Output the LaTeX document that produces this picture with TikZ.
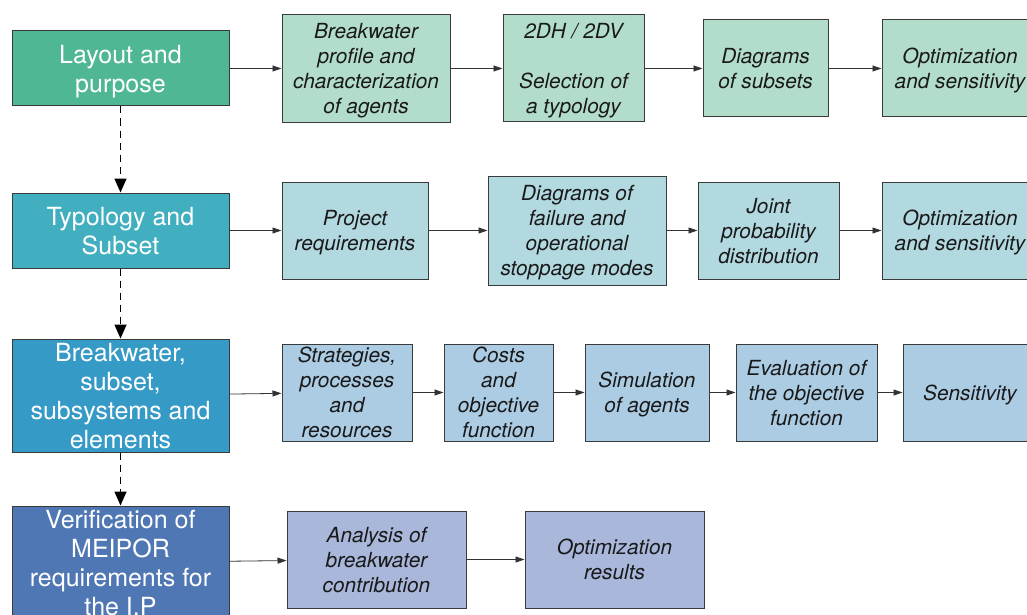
\documentclass[tikz,border=0pt]{standalone}
\usepackage{fontspec}
\setmainfont{TeX Gyre Heros}
\usetikzlibrary{arrows.meta}
\usetikzlibrary{positioning}

\definecolor{stepA}{HTML}{50B794}
\definecolor{stepB}{HTML}{42AFC0}
\definecolor{stepC}{HTML}{359AC6}
\definecolor{stepD}{HTML}{4F77B4}
\definecolor{taskA}{HTML}{B3DDCB}
\definecolor{taskB}{HTML}{B2D8E0}
\definecolor{taskC}{HTML}{ACCCE4}
\definecolor{taskD}{HTML}{A9B7DB}
\definecolor{edge}{HTML}{3A3A3A}

\begin{document}
\begin{tikzpicture}[x=1pt,y=-1pt,
  box/.style={draw=edge,line width=1pt,inner sep=0pt,align=center,text depth=0pt},
  stage/.style={box,text=white,minimum width=217pt,font=\fontsize{25}{29}\selectfont},
  task/.style={box,text=black!90,minimum height=97pt,font=\fontsize{20.8}{25}\selectfont\itshape},
  flow/.style={-{Triangle[length=9pt,width=6pt]},line width=0.8pt,draw=black!80},
  down/.style={-{Triangle[length=14pt,width=12pt]},line width=1.6pt,dash pattern=on 7pt off 5pt}]
  \clip (0,0) rectangle (1027,615);

  % left column
  \node[stage,fill=stepA,minimum height=75pt] (lay) at (120.5,68.5) {Layout and\\purpose};
  \node[stage,fill=stepB,minimum height=75pt] (typ) at (120.5,230.5) {Typology and\\Subset};
  \node[stage,fill=stepC,minimum height=113pt] (brk) at (120.5,395.5) {Breakwater,\\subset,\\subsystems and\\elements};
  \node[stage,fill=stepD,minimum height=113pt] (ver) at (120.5,562.5) {Verification of\\MEIPOR\\requirements for\\the I.P};

  % row 1
  \node[task,fill=taskA,minimum width=168pt,minimum height=108pt] (a1) at (366,68.5) {Breakwater\\profile and\\characterization\\of agents};
  \node[task,fill=taskA,minimum width=141pt,minimum height=107pt] (a2) at (573.5,68.5) {2DH / 2DV\\[25pt]Selection of\\a typology};
  \node[task,fill=taskA,minimum width=125pt] (a3) at (765.5,68.5) {Diagrams\\of subsets};
  \node[task,fill=taskA,minimum width=156pt] (a4) at (960,68.5) {Optimization\\and sensitivity};

  % row 2
  \node[task,fill=taskB,minimum width=146pt] (b1) at (355,230.5) {Project\\requirements};
  \node[task,fill=taskB,minimum width=178pt,minimum height=109pt] (b2) at (577,230.5) {Diagrams of\\failure and\\operational\\stoppage modes};
  \node[task,fill=taskB,minimum width=141pt] (b3) at (768.5,230.5) {Joint\\probability\\distribution};
  \node[task,fill=taskB,minimum width=156pt] (b4) at (960,230.5) {Optimization\\and sensitivity};

  % row 3
  \node[task,fill=taskC,minimum width=130pt] (c1) at (347,392.5) {Strategies,\\processes\\and\\resources};
  \node[task,fill=taskC,minimum width=109pt] (c2) at (498.5,392.5) {Costs\\and\\objective\\function};
  \node[task,fill=taskC,minimum width=124pt] (c3) at (647,392.5) {Simulation\\of agents};
  \node[task,fill=taskC,minimum width=141pt] (c4) at (806.5,392.5) {Evaluation of\\the objective\\function};
  \node[task,fill=taskC,minimum width=134pt] (c5) at (970,392.5) {Sensitivity};

  % row 4
  \node[task,fill=taskD,minimum width=179pt] (d1) at (376.5,559.5) {Analysis of\\breakwater\\contribution};
  \node[task,fill=taskD,minimum width=179pt] (d2) at (614.5,559.5) {Optimization\\results};

  \draw[down] (lay)--(typ);
  \draw[down] (typ)--(brk);
  \draw[down] (brk)--(ver);

  \draw[flow] (lay)--(a1);
  \draw[flow] (a1)--(a2);
  \draw[flow] (a2)--(a3);
  \draw[flow] (a3)--(a4);
  \draw[flow] (typ)--(b1);
  \draw[flow] (b1)--(b2);
  \draw[flow] (b2)--(b3);
  \draw[flow] (b3)--(b4);
  \draw[flow] (brk)--(c1);
  \draw[flow] (c1)--(c2);
  \draw[flow] (c2)--(c3);
  \draw[flow] (c3)--(c4);
  \draw[flow] (c4)--(c5);
  \draw[flow] (ver)--(d1);
  \draw[flow] (d1)--(d2);
\end{tikzpicture}
\end{document}
